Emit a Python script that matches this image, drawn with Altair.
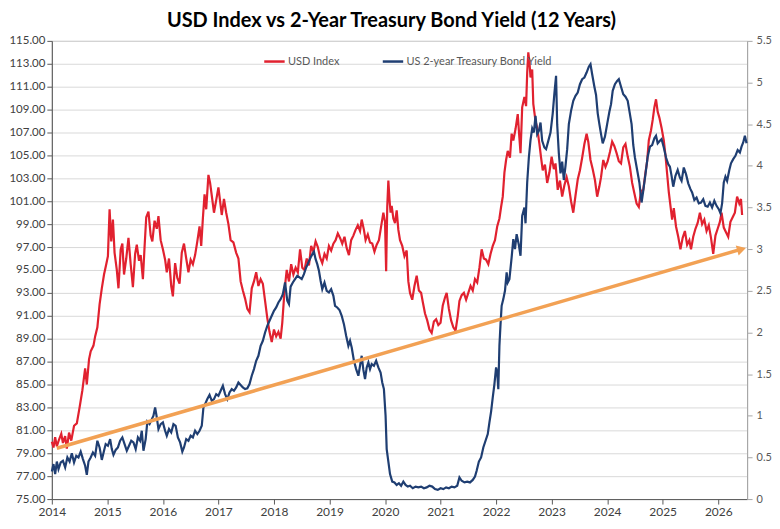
import altair as alt
import pandas as pd

# Chart text and styling lists
title_text = "USD Index vs 2-Year Treasury Bond Yield (12 Years)"
series_names = ["USD Index", "US 2-year Treasury Bond Yield"]
series_colors = ["#E1212F", "#1F3E72"]
arrow_color = "#F2A154"
usd_ticks = list(range(75, 116, 2))
yield_ticks = [0, 0.5, 1, 1.5, 2, 2.5, 3, 3.5, 4, 4.5, 5, 5.5]
year_ticks = list(range(2014, 2027))

# USD index (year, value)
usd_points = [
    (2014.00, 80.0), (2014.03, 79.5), (2014.06, 80.4), (2014.09, 79.6), (2014.13, 80.2),
    (2014.17, 80.7), (2014.20, 79.9), (2014.24, 80.5), (2014.27, 79.4), (2014.31, 80.8),
    (2014.35, 80.1), (2014.40, 81.4), (2014.45, 81.6), (2014.50, 83.0), (2014.55, 84.5),
    (2014.60, 86.4), (2014.63, 85.0), (2014.67, 87.2), (2014.70, 87.9), (2014.75, 88.4),
    (2014.78, 89.2), (2014.82, 90.0), (2014.86, 92.0), (2014.90, 93.4), (2014.94, 94.6),
    (2014.98, 95.5), (2015.01, 96.2), (2015.04, 100.3), (2015.07, 97.5), (2015.10, 99.4),
    (2015.13, 96.5), (2015.17, 95.0), (2015.20, 93.4), (2015.24, 96.8), (2015.27, 97.3),
    (2015.30, 94.6), (2015.34, 96.0), (2015.38, 97.8), (2015.42, 95.5), (2015.46, 93.5),
    (2015.50, 96.4), (2015.53, 97.2), (2015.57, 95.8), (2015.60, 96.3), (2015.64, 94.2),
    (2015.67, 97.0), (2015.70, 99.6), (2015.74, 100.1), (2015.78, 98.0), (2015.81, 97.5),
    (2015.85, 99.3), (2015.89, 98.6), (2015.92, 99.7), (2015.96, 97.6), (2016.00, 96.8),
    (2016.04, 95.9), (2016.07, 94.8), (2016.11, 96.0), (2016.15, 93.6), (2016.18, 92.7),
    (2016.22, 95.6), (2016.26, 94.3), (2016.30, 93.8), (2016.34, 96.5), (2016.38, 97.3),
    (2016.42, 96.0), (2016.46, 94.8), (2016.50, 95.9), (2016.54, 95.5), (2016.58, 96.3),
    (2016.62, 97.5), (2016.66, 98.8), (2016.69, 97.1), (2016.72, 99.5), (2016.75, 101.6),
    (2016.78, 100.3), (2016.82, 103.3), (2016.85, 102.6), (2016.88, 101.5), (2016.92, 100.0),
    (2016.96, 101.1), (2017.00, 102.2), (2017.03, 101.0), (2017.06, 99.8), (2017.10, 101.2),
    (2017.14, 100.0), (2017.18, 99.0), (2017.22, 97.6), (2017.27, 97.4), (2017.32, 96.5),
    (2017.36, 96.0), (2017.40, 94.0), (2017.44, 93.2), (2017.48, 92.5), (2017.52, 91.6),
    (2017.56, 91.3), (2017.60, 93.4), (2017.64, 94.0), (2017.68, 94.8), (2017.72, 93.6),
    (2017.76, 94.2), (2017.80, 93.8), (2017.84, 92.3), (2017.88, 90.8), (2017.92, 89.6),
    (2017.96, 88.7), (2018.00, 89.8), (2018.04, 89.2), (2018.08, 89.6), (2018.12, 89.0),
    (2018.15, 90.4), (2018.19, 93.2), (2018.23, 95.0), (2018.27, 94.0), (2018.31, 95.5),
    (2018.35, 94.6), (2018.39, 95.2), (2018.43, 94.8), (2018.47, 96.8), (2018.51, 95.2),
    (2018.55, 95.0), (2018.59, 96.0), (2018.63, 95.4), (2018.67, 97.1), (2018.71, 96.6),
    (2018.75, 97.5), (2018.79, 97.0), (2018.83, 96.1), (2018.87, 95.6), (2018.91, 96.4),
    (2018.95, 96.0), (2018.99, 97.1), (2019.03, 96.7), (2019.07, 97.3), (2019.11, 97.6),
    (2019.15, 98.2), (2019.19, 97.8), (2019.23, 97.3), (2019.27, 97.9), (2019.31, 96.9),
    (2019.35, 96.3), (2019.39, 97.6), (2019.43, 98.0), (2019.47, 98.5), (2019.51, 98.9),
    (2019.55, 98.4), (2019.58, 99.4), (2019.62, 98.5), (2019.65, 97.6), (2019.69, 98.1),
    (2019.73, 97.4), (2019.77, 97.3), (2019.81, 96.6), (2019.85, 97.2), (2019.89, 97.6),
    (2019.93, 98.8), (2019.97, 100.0), (2020.00, 99.2), (2020.02, 94.9), (2020.04, 100.5),
    (2020.06, 102.8), (2020.08, 101.2), (2020.10, 100.0), (2020.12, 100.6), (2020.15, 99.5),
    (2020.18, 99.1), (2020.21, 100.2), (2020.24, 98.5), (2020.27, 97.6), (2020.31, 97.1),
    (2020.35, 96.2), (2020.39, 96.7), (2020.42, 94.0), (2020.45, 93.0), (2020.49, 92.4),
    (2020.53, 93.6), (2020.57, 94.5), (2020.61, 93.2), (2020.65, 93.0), (2020.68, 92.2),
    (2020.72, 91.2), (2020.76, 90.6), (2020.80, 89.8), (2020.84, 89.5), (2020.88, 90.5),
    (2020.92, 90.7), (2020.96, 90.2), (2021.00, 90.4), (2021.04, 91.9), (2021.08, 92.6),
    (2021.11, 93.0), (2021.15, 91.6), (2021.19, 90.6), (2021.23, 90.0), (2021.27, 89.7),
    (2021.31, 91.0), (2021.34, 92.3), (2021.38, 92.8), (2021.42, 93.0), (2021.46, 92.4),
    (2021.50, 93.0), (2021.54, 93.6), (2021.58, 93.2), (2021.62, 94.2), (2021.66, 93.9),
    (2021.70, 95.2), (2021.74, 96.8), (2021.78, 96.0), (2021.82, 95.9), (2021.86, 95.5),
    (2021.90, 96.4), (2021.94, 97.1), (2021.98, 97.6), (2022.02, 98.8), (2022.06, 99.5),
    (2022.09, 100.5), (2022.12, 101.4), (2022.15, 103.5), (2022.18, 104.6), (2022.21, 105.4),
    (2022.25, 104.8), (2022.28, 106.9), (2022.31, 106.3), (2022.35, 107.3), (2022.39, 108.6),
    (2022.42, 106.5), (2022.44, 105.2), (2022.47, 109.2), (2022.51, 110.1), (2022.54, 109.3),
    (2022.56, 112.2), (2022.58, 114.0), (2022.60, 113.2), (2022.62, 111.8), (2022.65, 112.5),
    (2022.67, 109.5), (2022.71, 108.0), (2022.74, 107.4), (2022.78, 106.0), (2022.81, 104.8),
    (2022.84, 103.7), (2022.88, 104.2), (2022.92, 102.6), (2022.96, 103.5), (2023.00, 104.9),
    (2023.04, 103.8), (2023.07, 104.3), (2023.11, 102.0), (2023.15, 102.8), (2023.19, 101.4),
    (2023.23, 102.4), (2023.27, 103.1), (2023.31, 102.3), (2023.35, 101.0), (2023.39, 100.0),
    (2023.43, 101.5), (2023.47, 102.9), (2023.51, 103.7), (2023.55, 104.8), (2023.59, 106.0),
    (2023.63, 106.9), (2023.66, 106.2), (2023.70, 104.6), (2023.74, 103.8), (2023.78, 102.85),
    (2023.82, 101.4), (2023.86, 102.3), (2023.89, 103.1), (2023.93, 104.6), (2023.97, 104.0),
    (2024.01, 104.5), (2024.05, 105.3), (2024.09, 106.2), (2024.13, 105.8), (2024.17, 105.2),
    (2024.21, 104.5), (2024.25, 104.3), (2024.29, 105.7), (2024.33, 106.0), (2024.37, 104.9),
    (2024.41, 104.0), (2024.45, 102.6), (2024.49, 101.7), (2024.53, 100.8), (2024.57, 100.5),
    (2024.61, 101.9), (2024.65, 102.0), (2024.69, 103.5), (2024.72, 104.5), (2024.75, 106.3),
    (2024.79, 107.2), (2024.82, 108.1), (2024.85, 109.2), (2024.88, 109.9), (2024.91, 108.8),
    (2024.94, 108.3), (2024.98, 107.4), (2025.02, 106.3), (2025.05, 105.0), (2025.08, 103.4),
    (2025.11, 101.8), (2025.14, 100.6), (2025.17, 99.4), (2025.20, 100.4), (2025.24, 98.8),
    (2025.28, 97.9), (2025.32, 96.8), (2025.36, 97.8), (2025.40, 98.4), (2025.44, 97.2),
    (2025.48, 97.6), (2025.51, 96.8), (2025.55, 97.9), (2025.59, 98.6), (2025.63, 99.1),
    (2025.67, 100.0), (2025.71, 99.0), (2025.75, 99.4), (2025.79, 98.4), (2025.83, 98.9),
    (2025.87, 97.8), (2025.91, 96.4), (2025.95, 98.0), (2025.99, 98.6), (2026.03, 99.2),
    (2026.06, 100.0), (2026.10, 98.7), (2026.14, 98.3), (2026.18, 97.9), (2026.22, 99.2),
    (2026.26, 99.6), (2026.30, 100.0), (2026.34, 101.4), (2026.38, 100.8), (2026.41, 101.2),
    (2026.43, 99.8),
]

# US 2-year treasury yield (year, percent)
yield_points = [
    (2014.00, 0.33), (2014.03, 0.42), (2014.06, 0.30), (2014.09, 0.45), (2014.12, 0.36),
    (2014.16, 0.44), (2014.20, 0.46), (2014.24, 0.38), (2014.28, 0.50), (2014.32, 0.45),
    (2014.36, 0.55), (2014.40, 0.44), (2014.44, 0.52), (2014.48, 0.50), (2014.52, 0.57),
    (2014.56, 0.48), (2014.60, 0.40), (2014.63, 0.29), (2014.66, 0.45), (2014.70, 0.50),
    (2014.74, 0.56), (2014.78, 0.52), (2014.82, 0.70), (2014.86, 0.62), (2014.90, 0.47),
    (2014.94, 0.58), (2014.97, 0.66), (2015.01, 0.64), (2015.05, 0.72), (2015.08, 0.60),
    (2015.11, 0.53), (2015.15, 0.59), (2015.19, 0.62), (2015.23, 0.70), (2015.27, 0.74),
    (2015.31, 0.66), (2015.35, 0.58), (2015.39, 0.64), (2015.43, 0.70), (2015.47, 0.68),
    (2015.51, 0.60), (2015.55, 0.74), (2015.59, 0.70), (2015.62, 0.82), (2015.65, 0.58),
    (2015.69, 0.72), (2015.72, 0.93), (2015.76, 0.90), (2015.80, 0.96), (2015.83, 1.00),
    (2015.86, 1.10), (2015.89, 0.98), (2015.92, 0.84), (2015.96, 0.90), (2016.00, 0.92),
    (2016.04, 0.82), (2016.07, 0.76), (2016.11, 0.84), (2016.15, 0.80), (2016.19, 0.90),
    (2016.23, 0.88), (2016.27, 0.74), (2016.31, 0.68), (2016.35, 0.57), (2016.38, 0.62),
    (2016.42, 0.72), (2016.46, 0.70), (2016.50, 0.76), (2016.54, 0.74), (2016.58, 0.82),
    (2016.62, 0.78), (2016.66, 0.82), (2016.70, 0.88), (2016.73, 1.10), (2016.76, 1.14),
    (2016.80, 1.20), (2016.84, 1.25), (2016.88, 1.18), (2016.92, 1.20), (2016.96, 1.26),
    (2017.00, 1.24), (2017.04, 1.30), (2017.08, 1.36), (2017.12, 1.26), (2017.16, 1.20),
    (2017.20, 1.28), (2017.24, 1.32), (2017.28, 1.30), (2017.32, 1.34), (2017.36, 1.40),
    (2017.40, 1.37), (2017.44, 1.34), (2017.48, 1.32), (2017.52, 1.33), (2017.56, 1.38),
    (2017.60, 1.48), (2017.64, 1.56), (2017.68, 1.66), (2017.72, 1.72), (2017.76, 1.84),
    (2017.80, 1.90), (2017.84, 2.00), (2017.88, 2.08), (2017.92, 2.14), (2017.96, 2.20),
    (2018.00, 2.26), (2018.04, 2.30), (2018.08, 2.36), (2018.12, 2.40), (2018.16, 2.46),
    (2018.20, 2.60), (2018.24, 2.38), (2018.27, 2.34), (2018.30, 2.55), (2018.34, 2.60),
    (2018.38, 2.64), (2018.42, 2.68), (2018.46, 2.66), (2018.50, 2.64), (2018.54, 2.70),
    (2018.58, 2.78), (2018.62, 2.84), (2018.66, 2.90), (2018.70, 2.95), (2018.72, 2.97),
    (2018.75, 2.88), (2018.78, 2.82), (2018.81, 2.74), (2018.84, 2.62), (2018.87, 2.52),
    (2018.91, 2.60), (2018.95, 2.50), (2018.99, 2.48), (2019.03, 2.52), (2019.07, 2.44),
    (2019.10, 2.32), (2019.14, 2.30), (2019.18, 2.27), (2019.22, 2.20), (2019.26, 2.10),
    (2019.30, 1.96), (2019.34, 1.84), (2019.37, 1.90), (2019.40, 1.82), (2019.44, 1.66),
    (2019.48, 1.56), (2019.52, 1.48), (2019.55, 1.60), (2019.58, 1.72), (2019.61, 1.55),
    (2019.64, 1.44), (2019.67, 1.58), (2019.70, 1.64), (2019.73, 1.56), (2019.76, 1.62),
    (2019.80, 1.60), (2019.84, 1.66), (2019.88, 1.58), (2019.92, 1.52), (2019.95, 1.40),
    (2019.98, 1.32), (2020.01, 1.00), (2020.03, 0.60), (2020.06, 0.45), (2020.09, 0.30),
    (2020.13, 0.21), (2020.17, 0.20), (2020.21, 0.17), (2020.25, 0.19), (2020.29, 0.16),
    (2020.33, 0.21), (2020.37, 0.17), (2020.41, 0.15), (2020.45, 0.16), (2020.50, 0.13),
    (2020.55, 0.15), (2020.60, 0.14), (2020.65, 0.15), (2020.70, 0.13), (2020.75, 0.14),
    (2020.80, 0.16), (2020.85, 0.15), (2020.90, 0.12), (2020.95, 0.11), (2021.00, 0.13),
    (2021.05, 0.12), (2021.10, 0.14), (2021.15, 0.13), (2021.20, 0.15), (2021.25, 0.14),
    (2021.30, 0.16), (2021.34, 0.26), (2021.38, 0.22), (2021.43, 0.20), (2021.48, 0.21),
    (2021.53, 0.20), (2021.58, 0.23), (2021.62, 0.27), (2021.65, 0.34), (2021.69, 0.45),
    (2021.73, 0.50), (2021.77, 0.62), (2021.81, 0.70), (2021.85, 0.78), (2021.88, 0.92),
    (2021.91, 1.05), (2021.94, 1.22), (2021.97, 1.38), (2022.00, 1.58), (2022.02, 1.52),
    (2022.04, 1.32), (2022.06, 1.84), (2022.08, 2.10), (2022.10, 2.32), (2022.13, 2.40),
    (2022.16, 2.50), (2022.19, 2.72), (2022.21, 2.60), (2022.24, 2.64), (2022.28, 2.90),
    (2022.31, 3.12), (2022.34, 3.00), (2022.37, 3.18), (2022.41, 3.05), (2022.44, 2.92),
    (2022.47, 3.40), (2022.51, 3.50), (2022.53, 3.31), (2022.56, 3.80), (2022.59, 4.10),
    (2022.62, 4.31), (2022.65, 4.45), (2022.68, 4.40), (2022.71, 4.60), (2022.74, 4.38),
    (2022.77, 4.42), (2022.80, 4.52), (2022.83, 4.30), (2022.87, 4.22), (2022.90, 4.20),
    (2022.94, 4.30), (2022.98, 4.40), (2023.02, 4.63), (2023.05, 4.87), (2023.08, 5.08),
    (2023.10, 4.50), (2023.13, 4.15), (2023.16, 3.91), (2023.19, 4.05), (2023.22, 3.83),
    (2023.25, 4.00), (2023.28, 4.20), (2023.31, 4.50), (2023.35, 4.66), (2023.39, 4.78),
    (2023.43, 4.84), (2023.47, 4.88), (2023.51, 4.98), (2023.55, 5.04), (2023.59, 5.06),
    (2023.63, 5.12), (2023.67, 5.19), (2023.70, 5.22), (2023.73, 5.10), (2023.77, 4.95),
    (2023.80, 4.85), (2023.83, 4.63), (2023.86, 4.50), (2023.89, 4.38), (2023.92, 4.27),
    (2023.96, 4.35), (2024.00, 4.50), (2024.04, 4.65), (2024.07, 4.74), (2024.10, 4.90),
    (2024.14, 4.98), (2024.18, 5.02), (2024.21, 5.04), (2024.25, 4.95), (2024.29, 4.86),
    (2024.33, 4.83), (2024.37, 4.78), (2024.41, 4.62), (2024.44, 4.50), (2024.47, 4.25),
    (2024.50, 4.10), (2024.54, 3.95), (2024.58, 3.80), (2024.62, 3.56), (2024.65, 3.70),
    (2024.69, 3.90), (2024.73, 4.11), (2024.77, 4.23), (2024.81, 4.25), (2024.85, 4.33),
    (2024.88, 4.36), (2024.91, 4.27), (2024.95, 4.30), (2024.98, 4.32), (2025.02, 4.22),
    (2025.06, 4.10), (2025.10, 4.02), (2025.13, 3.99), (2025.16, 3.88), (2025.19, 3.75),
    (2025.23, 3.88), (2025.27, 3.95), (2025.31, 3.86), (2025.34, 3.82), (2025.38, 3.98),
    (2025.42, 3.90), (2025.46, 3.79), (2025.50, 3.72), (2025.53, 3.68), (2025.57, 3.59),
    (2025.61, 3.62), (2025.65, 3.55), (2025.69, 3.56), (2025.73, 3.60), (2025.77, 3.52),
    (2025.81, 3.51), (2025.85, 3.56), (2025.89, 3.50), (2025.93, 3.58), (2025.97, 3.52),
    (2026.01, 3.48), (2026.04, 3.43), (2026.07, 3.55), (2026.10, 3.80), (2026.13, 3.87),
    (2026.16, 3.82), (2026.20, 3.95), (2026.23, 4.03), (2026.27, 4.08), (2026.31, 4.12),
    (2026.35, 4.19), (2026.39, 4.16), (2026.42, 4.23), (2026.45, 4.28), (2026.48, 4.36),
    (2026.51, 4.27),
]

# Orange trend arrow, in yield units (start, end)
arrow_years = [2014.09, 2026.42]
arrow_values = [0.61, 3.00]

usd = pd.DataFrame(usd_points, columns=["year", "value"])
usd["series"] = series_names[0]
yld = pd.DataFrame(yield_points, columns=["year", "value"])
yld["series"] = series_names[1]
arrow = pd.DataFrame({"year": arrow_years, "value": arrow_values})
arrow_tip = arrow.tail(1)

font = "Lato"

x = alt.X(
    "year:Q",
    scale=alt.Scale(domain=[2014, 2026.52], nice=False, zero=False),
    axis=alt.Axis(values=year_ticks, format="d", title=None, grid=False,
                  labelFlush=False, domainColor="#595959", tickColor="#595959",
                  tickSize=5, labelColor="#404040", labelFontSize=12, labelPadding=2),
)

color = alt.Color(
    "series:N",
    scale=alt.Scale(domain=series_names, range=series_colors),
    legend=alt.Legend(
        title=None, orient="none", legendX=212, legendY=9, direction="horizontal",
        symbolType="stroke", symbolSize=420, symbolStrokeWidth=2.5,
        labelFontSize=11, labelColor="#595959", labelFont=font,
        columnPadding=38, labelOffset=2,
    ),
)

# Left axis: USD index
usd_line = alt.Chart(usd).mark_line(strokeWidth=2.2).encode(
    x=x,
    y=alt.Y("value:Q",
            scale=alt.Scale(domain=[75, 115], nice=False, zero=False),
            axis=alt.Axis(values=usd_ticks, format=".2f", title=None, orient="left",
                          grid=True, gridColor="#d9d9d9", domainColor="#595959",
                          tickColor="#595959", tickSize=5, labelColor="#404040",
                          labelFontSize=11.5, labelPadding=2)),
    color=color,
)

# Right axis: yield, plus the arrow drawn in the same units
yield_scale = alt.Scale(domain=[0, 5.5], nice=False, zero=False)
yield_axis = alt.Axis(values=yield_ticks, format="~g", title=None, orient="right",
                      grid=False, domainColor="#a6a6a6", tickColor="#a6a6a6",
                      tickSize=5, labelColor="#595959", labelFontSize=11, labelPadding=4)

yield_line = alt.Chart(yld).mark_line(strokeWidth=2.2).encode(
    x=x,
    y=alt.Y("value:Q", scale=yield_scale, axis=yield_axis),
    color=color,
)

arrow_line = alt.Chart(arrow).mark_line(color=arrow_color, strokeWidth=3.5).encode(
    x=x,
    y=alt.Y("value:Q", scale=yield_scale, axis=yield_axis),
)

arrow_head = alt.Chart(arrow_tip).mark_point(
    shape="triangle-up", filled=True, size=110, angle=73.9,
    color=arrow_color, opacity=1,
).encode(
    x=x,
    y=alt.Y("value:Q", scale=yield_scale, axis=yield_axis),
)

right = alt.layer(yield_line, arrow_line, arrow_head)

chart = alt.layer(usd_line, right).resolve_scale(
    y="independent"
).properties(
    width=698,
    height=460,
    autosize=alt.AutoSizeParams(type="pad"),
    padding={"left": 0, "top": 2, "right": 0, "bottom": 0},
    title=alt.Title(title_text, fontSize=20, fontWeight="bold", font=font,
                    color="#000000", anchor="middle", offset=4, dx=-8),
).configure(
    font=font
).configure_axis(
    labelFont=font
).configure_view(
    stroke="#a6a6a6"
)

chart.save("out.html", embed_options={"renderer": "svg", "actions": False})
